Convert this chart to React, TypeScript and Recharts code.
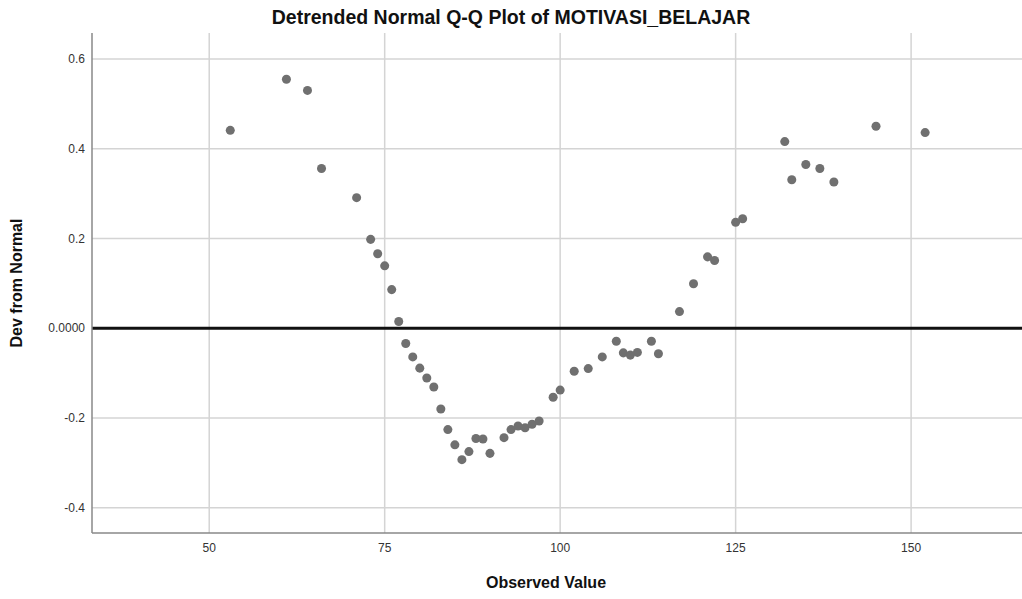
import { ScatterChart, Scatter, XAxis, YAxis, CartesianGrid, ReferenceLine } from "recharts";

const observed = [
  53, 61, 64, 66, 71, 73, 74, 75, 76, 77, 78, 79, 80, 81, 82, 83, 84, 85, 86, 87, 88, 89, 90, 92, 93, 94, 95, 96, 97,
  99, 100, 102, 104, 106, 108, 109, 110, 111, 113, 114, 117, 119, 121, 122, 125, 126, 132, 133, 135, 137, 139, 145, 152,
];
const deviation = [
  0.441, 0.555, 0.53, 0.356, 0.291, 0.198, 0.166, 0.139, 0.086, 0.015, -0.034, -0.064, -0.089, -0.111, -0.131, -0.18,
  -0.226, -0.26, -0.293, -0.275, -0.246, -0.247, -0.279, -0.244, -0.226, -0.218, -0.222, -0.214, -0.207, -0.154, -0.138,
  -0.096, -0.09, -0.064, -0.029, -0.055, -0.06, -0.054, -0.029, -0.057, 0.037, 0.099, 0.159, 0.151, 0.236, 0.244, 0.416,
  0.331, 0.365, 0.356, 0.326, 0.45, 0.436,
];
const xTicks = [50, 75, 100, 125, 150];
const yTicks = [-0.4, -0.2, 0, 0.2, 0.4, 0.6];

const points = observed.map((x, i) => ({ x, y: deviation[i] }));

const font = "'Liberation Sans', Arial, sans-serif";

export default function App() {
  return (
    <div style={{ position: "absolute", top: 0, left: 0, width: 1022, height: 599, background: "#fff", fontFamily: font }}>
      <div
        style={{
          position: "absolute",
          top: 6,
          left: 0,
          width: 1022,
          textAlign: "center",
          fontSize: 19.5,
          lineHeight: "22px",
          fontWeight: "bold",
          color: "#111",
        }}
      >
        Detrended Normal Q-Q Plot of MOTIVASI_BELAJAR
      </div>
      <div
        style={{
          position: "absolute",
          left: 17,
          top: 283,
          transform: "translate(-50%, -50%) rotate(-90deg)",
          whiteSpace: "nowrap",
          fontSize: 16,
          fontWeight: "bold",
          color: "#111",
        }}
      >
        Dev from Normal
      </div>
      <div
        style={{
          position: "absolute",
          left: 546,
          top: 583,
          transform: "translate(-50%, -50%)",
          whiteSpace: "nowrap",
          fontSize: 16,
          fontWeight: "bold",
          color: "#111",
        }}
      >
        Observed Value
      </div>
      <ScatterChart width={1022} height={599} margin={{ top: 33, right: 0, bottom: 36, left: 32 }}>
        <CartesianGrid stroke="#d4d4d4" strokeWidth={1.5} horizontalValues={yTicks} verticalValues={xTicks} />
        <XAxis
          type="number"
          dataKey="x"
          domain={[33.3, 165.8]}
          allowDataOverflow
          ticks={xTicks}
          height={30}
          tickLine={false}
          tickSize={0}
          tickMargin={10}
          stroke="#888"
          strokeWidth={1.5}
          tick={{ fill: "#333", fontSize: 12, fontFamily: font }}
        />
        <YAxis
          type="number"
          dataKey="y"
          domain={[-0.4565, 0.658]}
          allowDataOverflow
          ticks={yTicks}
          width={60}
          tickLine={false}
          tickSize={0}
          tickMargin={7}
          stroke="#888"
          strokeWidth={1.5}
          tickFormatter={(v: number) => (v === 0 ? "0.0000" : String(v))}
          tick={{ fill: "#333", fontSize: 12, fontFamily: font }}
        />
        <ReferenceLine y={0} stroke="#111" strokeWidth={3} />
        <Scatter data={points} fill="#707070" shape="circle" isAnimationActive={false} />
      </ScatterChart>
    </div>
  );
}
